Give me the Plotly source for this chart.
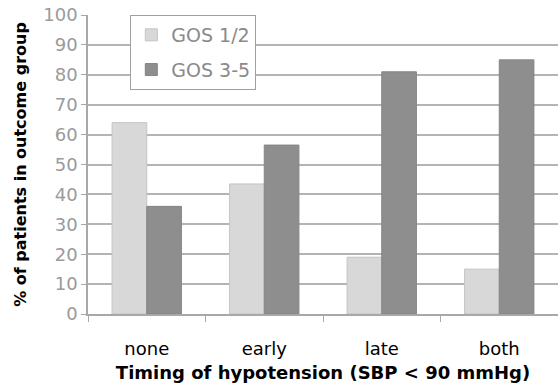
import plotly.graph_objects as go

# Timing of hypotension categories and outcome percentages
categories = ["none", "early", "late", "both"]
gos_1_2 = [64, 43.5, 19, 15]
gos_3_5 = [36, 56.5, 81, 85]
y_ticks = [0, 10, 20, 30, 40, 50, 60, 70, 80, 90, 100]

FONT = "DejaVu Sans, Arial, sans-serif"

fig = go.Figure()
fig.add_trace(go.Bar(
    x=categories, y=gos_1_2, name="GOS 1/2", legendgroup="a",
    marker=dict(color="#d8d8d8", line=dict(color="#c4c4c4", width=1)),
))
fig.add_trace(go.Bar(
    x=categories, y=gos_3_5, name="GOS 3-5", legendgroup="b",
    marker=dict(color="#8e8e8e", line=dict(color="#858585", width=1)),
))

fig.update_layout(
    width=558, height=391,
    margin=dict(l=88, r=0, t=15, b=77),
    paper_bgcolor="white", plot_bgcolor="white",
    barmode="group", bargap=0.41, bargroupgap=0,
    font=dict(family=FONT),
    legend=dict(
        x=0.09, y=1.0, xanchor="left", yanchor="top",
        bgcolor="white", bordercolor="#a0a0a0", borderwidth=1,
        font=dict(size=19, color="#8a8a8a", family=FONT),
        itemwidth=30, tracegroupgap=7,
    ),
    showlegend=True,
)

fig.update_xaxes(
    showline=True, linecolor="#a8a8a8", linewidth=1.5,
    ticks="outside", tickson="boundaries", ticklen=6, tickcolor="#a8a8a8",
    tickfont=dict(size=18, color="black", family=FONT),
    ticklabelstandoff=18,
    title=dict(text="<b>Timing of hypotension (SBP < 90 mmHg)</b>",
               font=dict(size=18, color="black", family=FONT), standoff=8),
)
fig.update_yaxes(
    range=[0, 100], tickvals=y_ticks,
    showgrid=True, gridcolor="#b4b4b4", gridwidth=1.5,
    showline=True, linecolor="#a8a8a8", linewidth=1.5,
    ticks="outside", ticklen=5, tickcolor="#a8a8a8",
    tickfont=dict(size=18, color="#9a9a9a", family=FONT),
    title=dict(text="<b>% of patients in outcome group</b>",
               font=dict(size=16, color="black", family=FONT), standoff=13),
)

fig.write_html("out.html")
